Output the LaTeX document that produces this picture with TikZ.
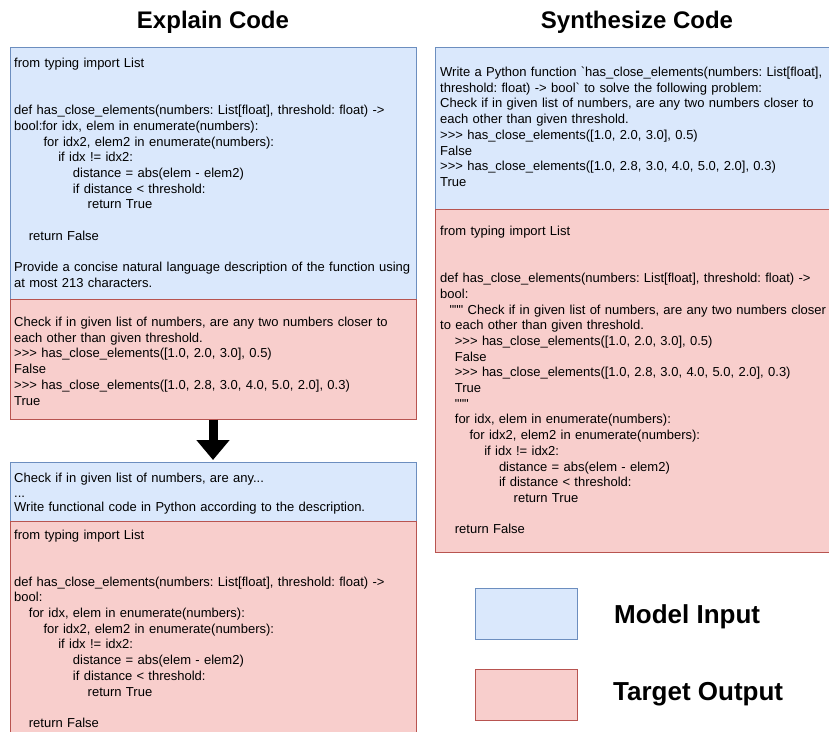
\documentclass[tikz,border=0pt]{standalone}
\usepackage{fontspec}
\setmainfont[Ligatures=TeXOff]{Liberation Sans}
\usetikzlibrary{positioning,arrows.meta}

\definecolor{inFill}{HTML}{DAE8FC}
\definecolor{inLine}{HTML}{6C8EBF}
\definecolor{outFill}{HTML}{F8CECC}
\definecolor{outLine}{HTML}{B85450}

\newlength{\idtstep}
\setlength{\idtstep}{14.7pt}
\newcommand{\idt}[1]{\hspace*{#1\idtstep}}
\frenchspacing

\begin{document}
\begin{tikzpicture}[x=1pt,y=-1pt,
	inbox/.style={rectangle,draw=inLine,fill=inFill,line width=0.8pt,inner sep=0,outer sep=0,anchor=north west},
	outbox/.style={rectangle,draw=outLine,fill=outFill,line width=0.8pt,inner sep=0,outer sep=0,anchor=north west},
	code/.style={anchor=base west,inner sep=0,align=left,text width=420pt,font=\fontsize{13}{15.7}\selectfont},
	heading/.style={anchor=base,inner sep=0,font=\fontsize{24}{28}\selectfont\bfseries},
	keylabel/.style={anchor=base west,inner sep=0,font=\fontsize{26}{30}\selectfont\bfseries},
	downarrow/.style={line width=9pt,-{Triangle[width=32pt,length=20pt]},shorten >=2pt}]
	\useasboundingbox (0,0) rectangle (829,731);

	% titles
	\node[heading] (ecTitle) at (213,28.5) {Explain Code};
	\node[heading] (scTitle) at (637,28.5) {Synthesize Code};

	% explain code, left column
	\node[inbox,minimum width=406,minimum height=252.5] (ecIn) at (10,47) {};
	\node[outbox,minimum width=406,minimum height=120,below=0pt of ecIn] (ecOut) {};
	\node[inbox,minimum width=406,minimum height=59.5] (ecIn2) at (10,462) {};
	\node[outbox,minimum width=406,minimum height=230,below=0pt of ecIn2] (ecOut2) {};

	\node[code] (ecInTxt) at ([shift={(4,20.5)}]ecIn.north west) {
		from typing import List\\[31.4pt]
		def has\_close\_elements(numbers: List[float], threshold: float) ->\\
		bool:for idx, elem in enumerate(numbers):\\
		\idt{2}for idx2, elem2 in enumerate(numbers):\\
		\idt{3}if idx != idx2:\\
		\idt{4}distance = abs(elem - elem2)\\
		\idt{4}if distance < threshold:\\
		\idt{5}return True\\[15.7pt]
		\idt{1}return False\\[15.7pt]
		Provide a concise natural language description of the function using\\
		at most 213 characters.};
	\node[code] (ecOutTxt) at ([shift={(4,27)}]ecOut.north west) {
		Check if in given list of numbers, are any two numbers closer to\\
		each other than given threshold.\\
		>>> has\_close\_elements([1.0, 2.0, 3.0], 0.5)\\
		False\\
		>>> has\_close\_elements([1.0, 2.8, 3.0, 4.0, 5.0, 2.0], 0.3)\\
		True};
	\node[code,font=\fontsize{13}{14.5}\selectfont] (ecIn2Txt) at ([shift={(4,20.5)}]ecIn2.north west) {
		Check if in given list of numbers, are any...\\
		...\\
		Write functional code in Python according to the description.};
	\node[code] (ecOut2Txt) at ([shift={(4,17.5)}]ecOut2.north west) {
		from typing import List\\[31.4pt]
		def has\_close\_elements(numbers: List[float], threshold: float) ->\\
		bool:\\
		\idt{1}for idx, elem in enumerate(numbers):\\
		\idt{2}for idx2, elem2 in enumerate(numbers):\\
		\idt{3}if idx != idx2:\\
		\idt{4}distance = abs(elem - elem2)\\
		\idt{4}if distance < threshold:\\
		\idt{5}return True\\[15.7pt]
		\idt{1}return False};

	\draw[downarrow] (ecOut) -- (ecIn2);

	% synthesize code, right column
	\node[inbox,minimum width=400,minimum height=162] (scIn) at (435,47) {};
	\node[outbox,minimum width=400,minimum height=343,below=0pt of scIn] (scOut) {};

	\node[code] (scInTxt) at ([shift={(5,29.5)}]scIn.north west) {
		Write a Python function \textasciigrave{}has\_close\_elements(numbers: List[float],\\
		threshold: float) -> bool\textasciigrave{} to solve the following problem:\\
		Check if in given list of numbers, are any two numbers closer to\\
		each other than given threshold.\\
		>>> has\_close\_elements([1.0, 2.0, 3.0], 0.5)\\
		False\\
		>>> has\_close\_elements([1.0, 2.8, 3.0, 4.0, 5.0, 2.0], 0.3)\\
		True};
	\node[code] (scOutTxt) at ([shift={(5,26.5)}]scOut.north west) {
		from typing import List\\[31.4pt]
		def has\_close\_elements(numbers: List[float], threshold: float) ->\\
		bool:\\
		\hspace*{9.3pt}""" Check if in given list of numbers, are any two numbers closer\\
		to each other than given threshold.\\
		\idt{1}>>> has\_close\_elements([1.0, 2.0, 3.0], 0.5)\\
		\idt{1}False\\
		\idt{1}>>> has\_close\_elements([1.0, 2.8, 3.0, 4.0, 5.0, 2.0], 0.3)\\
		\idt{1}True\\
		\idt{1}"""\\
		\idt{1}for idx, elem in enumerate(numbers):\\
		\idt{2}for idx2, elem2 in enumerate(numbers):\\
		\idt{3}if idx != idx2:\\
		\idt{4}distance = abs(elem - elem2)\\
		\idt{4}if distance < threshold:\\
		\idt{5}return True\\[15.7pt]
		\idt{1}return False};

	% legend
	\node[inbox,minimum width=102,minimum height=51] (keyIn) at (475,588) {};
	\node[outbox,minimum width=102,minimum height=51] (keyOut) at (475,669) {};
	\node[keylabel] (keyInLbl) at (614,623) {Model Input};
	\node[keylabel] (keyOutLbl) at (613,700) {Target Output};
\end{tikzpicture}
\end{document}
